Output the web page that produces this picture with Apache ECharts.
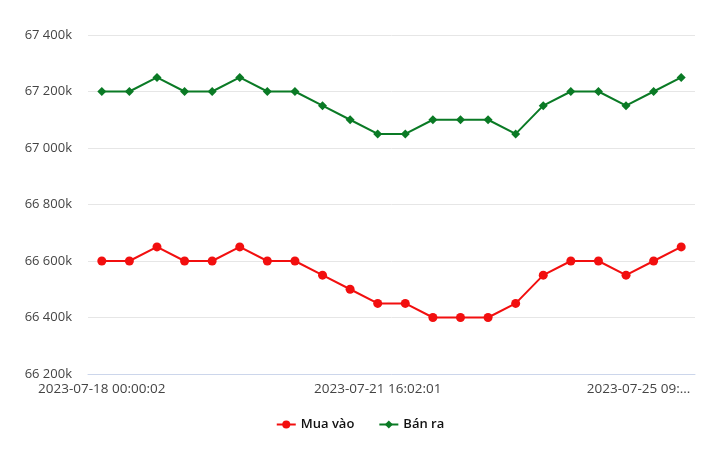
<!DOCTYPE html>
<html><head><meta charset="utf-8">
<script src="https://cdn.jsdelivr.net/npm/echarts@6/dist/echarts.min.js"></script>
<style>html,body{margin:0;padding:0;background:#fff}#c{width:720px;height:454px}</style>
</head><body><div id="c"></div>
<script>
const categories = [
 "2023-07-18 00:00:02","2023-07-18 09:00:00","2023-07-18 16:00:00","2023-07-19 00:00:00","2023-07-19 09:00:00","2023-07-19 16:00:00",
 "2023-07-20 00:00:00","2023-07-20 09:00:00","2023-07-20 16:00:00","2023-07-21 00:00:00","2023-07-21 16:02:01","2023-07-22 00:00:00",
 "2023-07-22 09:00:00","2023-07-22 16:00:00","2023-07-23 09:00:00","2023-07-23 16:00:00","2023-07-24 00:00:00","2023-07-24 09:00:00",
 "2023-07-24 16:00:00","2023-07-25 00:00:00","2023-07-25 09:00:00","2023-07-25 16:00:00"];
const muaVao = [66600,66600,66650,66600,66600,66650,66600,66600,66550,66500,66450,66450,66400,66400,66400,66450,66550,66600,66600,66550,66600,66650];
const banRa  = [67200,67200,67250,67200,67200,67250,67200,67200,67150,67100,67050,67050,67100,67100,67100,67050,67150,67200,67200,67150,67200,67250];
const yMin = 66200, yMax = 67400, yStep = 200;

const chart = echarts.init(document.getElementById('c'));
const font = '"Open Sans", "Noto Sans", sans-serif';
chart.setOption({
  animation: false,
  textStyle: {fontFamily: font},
  grid: {left: 88, right: 25, top: 35, bottom: 80},
  legend: {
    bottom: 18, left: 'center', itemGap: 24, itemWidth: 19, itemHeight: 10,
    textStyle: {fontFamily: font, fontSize: 13, color: '#111', fontWeight: 600},
    data: ['Mua vào', 'Bán ra']
  },
  xAxis: {
    type: 'category', data: categories, boundaryGap: true,
    axisLine: {lineStyle: {color: '#ccd6eb'}},
    axisTick: {show: false},
    axisLabel: {
      interval: 9, color: '#444', fontSize: 13.5, fontFamily: font, margin: 8,
      formatter: function (v, i) {
        if (i === 20) return '{t|2023-07-25 09:...}';
        if (i === 0 || i === 10) return v;
        return '';
      },
      rich: {t: {padding: [0, 30, 0, 0], color: '#444', fontSize: 13.5, fontFamily: font}}
    }
  },
  yAxis: {
    type: 'value', min: yMin, max: yMax, interval: yStep,
    axisLine: {show: false}, axisTick: {show: false},
    splitLine: {lineStyle: {color: '#e6e6e6'}},
    axisLabel: {
      color: '#444', fontSize: 13, fontFamily: font, margin: 16,
      formatter: function (v) {
        return String(v).replace(/\B(?=(\d{3})+(?!\d))/g, ' ') + 'k';
      }
    }
  },
  series: [
    {name: 'Mua vào', type: 'line', data: muaVao, symbol: 'circle', symbolSize: 9,
     itemStyle: {color: '#f20f0f'}, lineStyle: {width: 2, color: '#f20f0f'}},
    {name: 'Bán ra', type: 'line', data: banRa, symbol: 'diamond', symbolSize: 9,
     itemStyle: {color: '#0a7a25'}, lineStyle: {width: 2, color: '#0a7a25'}}
  ]
});
</script></body></html>
